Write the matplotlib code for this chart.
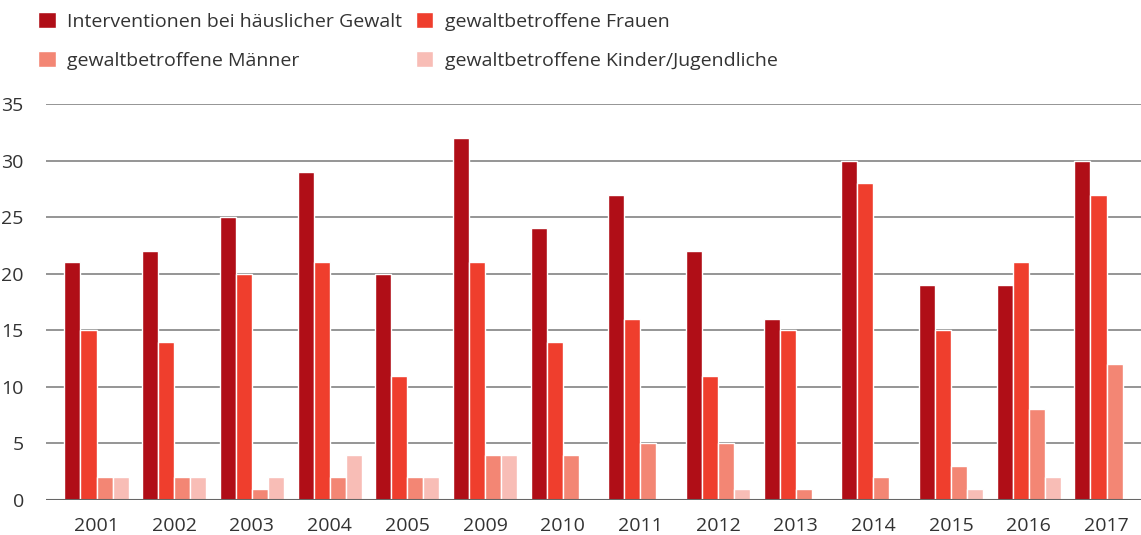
import matplotlib.pyplot as plt
import numpy as np

plt.rcParams["font.family"] = ["Open Sans", "DejaVu Sans"]

years = ["2001", "2002", "2003", "2004", "2005", "2009", "2010",
         "2011", "2012", "2013", "2014", "2015", "2016", "2017"]
interventionen = [21, 22, 25, 29, 20, 32, 24, 27, 22, 16, 30, 19, 19, 30]
frauen = [15, 14, 20, 21, 11, 21, 14, 16, 11, 15, 28, 15, 21, 27]
maenner = [2, 2, 1, 2, 2, 4, 4, 5, 5, 1, 2, 3, 8, 12]
kinder = [2, 2, 2, 4, 2, 4, 0, 0, 1, 0, 0, 1, 2, 0]

labels = ["Interventionen bei häuslicher Gewalt", "gewaltbetroffene Frauen",
          "gewaltbetroffene Männer", "gewaltbetroffene Kinder/Jugendliche"]
colors = ["#b00e17", "#ef3e2d", "#f38674", "#f8bdb6"]
series = [interventionen, frauen, maenner, kinder]

fig = plt.figure(figsize=(11.41, 5.35), dpi=100)
ax = fig.add_axes([46 / 1141, 35 / 535, 1 - 46 / 1141, (500 - 104) / 535])

x = np.arange(len(years))
w = 0.206
for k, (vals, col, lab) in enumerate(zip(series, colors, labels)):
    ax.bar(x + (k - 1.5) * w, vals, width=w, color=col, label=lab,
           edgecolor="white", linewidth=1.0, zorder=3)

ax.set_xlim(-0.65, len(years) - 1 + 0.444)
ax.set_ylim(0, 35)
ax.set_yticks(np.arange(0, 36, 5))
ax.set_xticks(x)
ax.set_xticklabels(years)
ax.tick_params(axis="both", length=0, labelsize=14, colors="#333333")
ax.tick_params(axis="y", pad=16)
ax.tick_params(axis="x", pad=12)
ax.grid(axis="y", color="#8c8c8c", linewidth=1.3, zorder=0)
ax.axhline(0, color="#666666", linewidth=1.5, zorder=4)
for s in ax.spines.values():
    s.set_visible(False)

# legend fills column by column, so reorder to get rows of two
handles, labs = ax.get_legend_handles_labels()
order = [0, 2, 1, 3]
fig.legend([handles[i] for i in order], [labs[i] for i in order],
           ncol=2, loc="upper left", bbox_to_anchor=(0.018, 1.01),
           frameon=False, fontsize=14,
           handlelength=0.9, handleheight=0.9, handletextpad=0.6,
           columnspacing=0.7, labelspacing=1.05, labelcolor="#333333")

fig.savefig("out.png", dpi=100)
